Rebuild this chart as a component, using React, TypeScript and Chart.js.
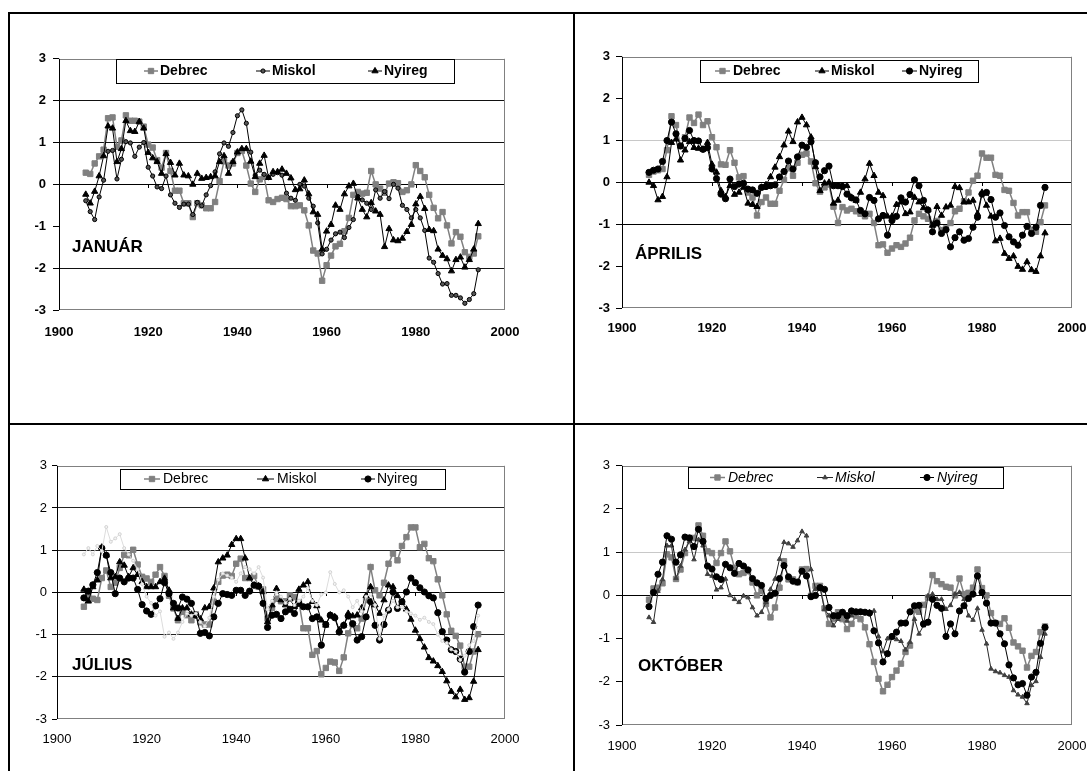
import React, { useEffect, useRef } from 'react';
import { Chart, registerables } from 'chart.js';
import { drawPoint } from 'chart.js/helpers';

Chart.register(...registerables);

const FONT = '"Liberation Sans", Arial, Helvetica, sans-serif';
Chart.defaults.font.family = FONT;
Chart.defaults.color = '#000';

const YEARS = [
  1906, 1907, 1908, 1909, 1910, 1911, 1912, 1913, 1914, 1915,
  1916, 1917, 1918, 1919, 1920, 1921, 1922, 1923, 1924, 1925,
  1926, 1927, 1928, 1929, 1930, 1931, 1932, 1933, 1934, 1935,
  1936, 1937, 1938, 1939, 1940, 1941, 1942, 1943, 1944, 1945,
  1946, 1947, 1948, 1949, 1950, 1951, 1952, 1953, 1954, 1955,
  1956, 1957, 1958, 1959, 1960, 1961, 1962, 1963, 1964, 1965,
  1966, 1967, 1968, 1969, 1970, 1971, 1972, 1973, 1974, 1975,
  1976, 1977, 1978, 1979, 1980, 1981, 1982, 1983, 1984, 1985,
  1986, 1987, 1988, 1989, 1990, 1991, 1992, 1993, 1994,
];
const X_TICKS = [1900, 1920, 1940, 1960, 1980, 2000];
const Y_TICKS = [-3, -2, -1, 0, 1, 2, 3];
const SERIES_NAMES = ['Debrec', 'Miskol', 'Nyireg'];

// ---------- JANUÁR ----------
const JAN_DEBREC = [
  0.28, 0.25, 0.50, 0.67, 0.83, 1.58, 1.60, 0.90, 1.05, 1.65,
  1.52, 1.52, 1.50, 1.38, 0.95, 0.88, 0.58, 0.40, 0.75, 0.32,
  -0.15, -0.15, -0.45, -0.45, -0.78, -0.45, -0.50, -0.57, -0.57, -0.42,
  0.08, 0.55, 0.45, 0.50, 0.75, 0.80, 0.45, 0.02, -0.18, 0.12,
  0.18, -0.38, -0.42, -0.35, -0.32, -0.35, -0.52, -0.52, -0.50, -0.62,
  -0.98, -1.58, -1.65, -2.30, -1.93, -1.70, -1.48, -1.42, -1.12, -0.80,
  -0.25, -0.18, -0.22, -0.20, 0.32, 0.00, -0.10, -0.20, 0.02, 0.05,
  0.03, -0.18, -0.14, 0.00, 0.46, 0.32, 0.17, -0.25, -0.56, -0.81,
  -0.66, -0.98, -1.41, -1.14, -1.25, -1.62, -1.73, -1.65, -1.24,
];
const JAN_MISKOL = [
  -0.39, -0.65, -0.84, -0.30, 0.10, 0.79, 0.81, 0.13, 0.60, 1.02,
  0.99, 0.67, 0.89, 1.00, 0.41, 0.20, -0.06, -0.10, 0.20, -0.25,
  -0.45, -0.55, -0.47, -0.47, -0.72, -0.43, -0.51, -0.25, -0.03, 0.30,
  0.73, 0.99, 0.91, 1.24, 1.64, 1.78, 1.46, 0.77, 0.22, 0.34,
  0.24, 0.16, 0.24, 0.28, 0.22, -0.21, -0.33, -0.38, 0.00, -0.04,
  -0.33, -0.52, -0.92, -1.66, -1.55, -1.33, -1.18, -1.14, -1.27, -1.03,
  -0.84, -0.29, -0.37, -0.45, -0.60, -0.13, -0.33, -0.17, -0.34, 0.00,
  -0.09, -0.50, -0.60, -0.80, -0.60, -0.80, -1.10, -1.76, -1.86, -2.13,
  -2.38, -2.37, -2.65, -2.65, -2.71, -2.84, -2.75, -2.61, -2.04,
];
const JAN_NYIREG = [
  -0.24, -0.45, -0.17, 0.20, 0.68, 1.39, 1.34, 0.54, 0.85, 1.52,
  1.28, 1.26, 1.50, 1.34, 0.76, 0.63, 0.54, 0.26, 0.73, 0.52,
  0.22, 0.50, 0.22, 0.20, 0.00, 0.26, 0.14, 0.16, 0.18, 0.20,
  0.54, 0.68, 0.26, 0.54, 0.77, 0.85, 0.85, 0.55, 0.18, 0.50,
  0.69, 0.16, 0.30, 0.30, 0.36, 0.26, 0.15, -0.13, -0.11, 0.10,
  -0.23, -0.66, -0.72, -1.55, -1.12, -0.96, -0.50, -0.60, -0.23, -0.04,
  0.02, -0.33, -0.60, -0.78, -0.44, -0.64, -0.72, -1.49, -1.06, -1.33,
  -1.35, -1.29, -1.13, -0.96, -0.47, -0.29, -0.58, -1.08, -1.11, -1.55,
  -1.70, -1.78, -2.07, -1.80, -1.74, -1.98, -1.80, -1.55, -0.94,
];

// ---------- ÁPRILIS ----------
const APR_DEBREC = [
  0.18, 0.26, 0.29, 0.32, 0.77, 1.58, 1.37, 0.87, 1.08, 1.55,
  1.42, 1.62, 1.37, 1.46, 1.08, 0.84, 0.43, 0.42, 0.77, 0.47,
  0.12, 0.15, -0.24, -0.36, -0.79, -0.47, -0.36, -0.51, -0.51, -0.20,
  0.06, 0.34, 0.16, 0.47, 0.66, 0.69, 0.50, -0.02, -0.22, -0.12,
  -0.05, -0.58, -0.97, -0.59, -0.67, -0.63, -0.69, -0.75, -0.81, -0.75,
  -0.97, -1.50, -1.48, -1.68, -1.58, -1.50, -1.54, -1.46, -1.32, -0.91,
  -0.75, -0.81, -0.87, -0.99, -0.92, -1.14, -1.10, -0.97, -0.69, -0.63,
  -0.45, -0.24, 0.04, 0.16, 0.69, 0.59, 0.59, 0.18, 0.16, -0.18,
  -0.20, -0.49, -0.79, -0.71, -0.71, -1.14, -1.18, -0.95, -0.55,
];
const APR_MISKOL = [
  0.00, -0.08, -0.42, -0.34, 0.13, 0.95, 1.03, 0.53, 0.77, 0.97,
  0.83, 0.81, 0.79, 0.95, 0.43, 0.24, -0.20, -0.34, -0.08, -0.29,
  -0.24, -0.12, -0.50, -0.53, -0.58, -0.12, -0.06, 0.13, 0.36, 0.61,
  0.89, 1.22, 0.97, 1.44, 1.55, 1.37, 1.08, 0.37, -0.20, -0.02,
  0.00, -0.50, -0.43, -0.08, -0.08, -0.36, -0.43, -0.24, 0.08, 0.45,
  0.16, -0.24, -0.32, -0.81, -0.81, -0.53, -0.47, -0.75, -0.71, -0.36,
  -0.47, -0.61, -0.66, -1.03, -0.58, -0.79, -0.59, -0.55, -0.10, -0.13,
  -0.47, -0.47, -0.43, -0.75, -0.24, -0.55, -0.81, -1.40, -1.34, -1.70,
  -1.82, -1.76, -2.01, -2.08, -1.90, -2.09, -2.13, -1.76, -1.21,
];
const APR_NYIREG = [
  0.24, 0.29, 0.32, 0.50, 1.00, 1.44, 1.16, 0.87, 1.05, 1.24,
  1.00, 0.99, 0.79, 0.83, 0.32, 0.09, -0.28, -0.39, 0.08, -0.10,
  -0.04, -0.02, -0.16, -0.18, -0.26, -0.12, -0.10, -0.08, -0.06, 0.13,
  0.26, 0.51, 0.32, 0.61, 0.89, 0.84, 0.97, 0.47, 0.13, 0.28,
  0.39, -0.08, -0.08, -0.10, -0.28, -0.37, -0.42, -0.67, -0.75, -0.36,
  -0.43, -0.87, -0.79, -1.26, -0.91, -0.81, -0.37, -0.47, -0.29, 0.06,
  -0.08, -0.43, -0.66, -1.18, -0.97, -1.22, -1.13, -1.54, -1.32, -1.18,
  -1.38, -1.34, -1.07, -0.83, -0.28, -0.24, -0.41, -0.83, -0.73, -1.03,
  -1.30, -1.42, -1.50, -1.26, -1.05, -1.22, -1.07, -0.55, -0.12,
];

// ---------- JÚLIUS ----------
const JUL_DEBREC = [
  -0.34, -0.08, -0.15, -0.18, 0.34, 0.52, 0.13, 0.23, 0.58, 0.89,
  0.88, 1.01, 0.66, 0.37, 0.33, 0.25, 0.42, 0.60, 0.39, -0.08,
  -0.38, -0.66, -0.46, -0.54, -0.66, -0.52, -0.71, -0.76, -0.76, -0.22,
  0.25, 0.40, 0.42, 0.39, 0.68, 0.80, 0.34, 0.34, 0.39, 0.13,
  0.07, -0.62, -0.37, -0.15, -0.21, -0.21, -0.07, -0.11, -0.23, -0.85,
  -0.85, -1.48, -1.39, -1.94, -1.79, -1.64, -1.66, -1.86, -1.54, -0.97,
  -0.76, -0.85, -0.62, -0.18, 0.60, 0.05, -0.07, 0.23, 0.68, 0.92,
  0.76, 1.10, 1.31, 1.54, 1.54, 1.07, 1.15, 0.81, 0.74, 0.31,
  -0.07, -0.52, -0.91, -1.03, -1.26, -1.76, -1.76, -1.40, -0.99,
];
const JUL_MISKOL = [
  0.07, -0.21, 0.13, 0.29, 1.07, 0.88, 0.34, 0.37, 0.72, 0.64,
  0.37, 0.58, 0.42, 0.25, 0.13, 0.13, 0.13, 0.25, 0.33, 0.05,
  -0.37, -0.62, -0.37, -0.37, -0.52, -0.54, -0.63, -0.37, -0.34, 0.10,
  0.72, 0.81, 0.88, 1.13, 1.27, 1.27, 0.81, 0.34, 0.17, 0.15,
  0.01, -0.70, -0.30, 0.09, -0.18, -0.30, -0.16, -0.34, 0.07, 0.17,
  0.25, -0.22, -0.32, -0.66, -0.78, -0.54, -0.58, -0.89, -0.78, -0.50,
  -0.56, -0.54, -0.37, -0.08, 0.13, -0.30, -0.50, -0.18, 0.17, 0.13,
  -0.08, -0.24, -0.40, -0.64, -0.90, -1.10, -1.30, -1.55, -1.63, -1.74,
  -1.88, -2.10, -2.35, -2.48, -2.30, -2.54, -2.50, -2.11, -1.36,
];
const JUL_NYIREG = [
  -0.13, 0.03, 0.18, 0.47, 1.05, 0.88, 0.47, -0.03, 0.34, 0.25,
  0.34, 0.34, 0.07, -0.29, -0.44, -0.52, -0.32, -0.15, 0.23, -0.03,
  -0.26, -0.37, -0.11, -0.16, -0.26, -0.54, -0.97, -0.95, -1.03, -0.58,
  -0.26, -0.03, -0.05, -0.07, 0.05, 0.05, -0.07, 0.03, 0.17, 0.15,
  -0.26, -0.83, -0.54, -0.52, -0.62, -0.46, -0.40, -0.50, -0.26, -0.34,
  -0.34, -0.62, -0.58, -1.25, -0.76, -0.54, -0.60, -0.94, -0.78, -0.56,
  -0.74, -1.13, -1.05, -0.58, -0.22, -0.78, -1.13, -0.76, -0.42, 0.01,
  -0.38, -0.22, 0.01, 0.34, 0.23, 0.11, 0.01, -0.08, -0.13, -0.48,
  -0.93, -1.13, -1.36, -1.40, -1.58, -1.89, -1.40, -0.81, -0.30,
];
// faint light-grey trace visible behind the July series
const JUL_FAINT = [
  0.90, 1.05, 0.90, 1.10, 0.98, 1.55, 1.20, 1.28, 1.38, 1.05,
  0.90, 0.75, 0.55, 0.20, -0.10, -0.25, -0.55, -0.45, -1.05, -0.95,
  -1.10, -0.95, -0.70, -0.50, -0.55, -0.50, -0.70, -0.80, -0.60, -0.10,
  0.30, 0.45, 0.40, 0.35, 0.25, 0.45, 0.60, 0.55, 0.45, 0.60,
  0.35, -0.40, -0.20, 0.00, -0.10, -0.25, -0.15, -0.30, -0.20, -0.10,
  0.10, -0.20, -0.30, -0.05, 0.00, 0.48, 0.20, 0.00, 0.05, -0.10,
  -0.35, -0.20, -0.45, -0.10, -0.05, -0.30, -1.10, -0.55, -0.40, -0.20,
  -0.35, -0.35, -0.45, -0.50, -0.55, -0.65, -0.60, -0.70, -0.75, -1.00,
  -1.15, -1.20, -1.35, -1.40, -1.60, -1.50, -1.25, -1.15, -0.55,
];

// ---------- OKTÓBER ----------
const OKT_DEBREC = [
  -0.10, 0.16, 0.18, 0.28, 0.95, 0.88, 0.38, 0.60, 0.98, 1.33,
  1.33, 1.62, 1.38, 1.02, 0.98, 0.75, 0.98, 1.25, 1.02, 0.64,
  0.49, 0.52, 0.56, 0.30, 0.00, 0.10, -0.20, -0.51, -0.28, 0.18,
  0.79, 0.37, 0.37, 0.30, 0.60, 0.61, -0.01, 0.22, 0.22, -0.30,
  -0.66, -0.55, -0.39, -0.55, -0.78, -0.66, -0.47, -0.55, -0.74, -1.13,
  -1.54, -1.93, -2.22, -2.07, -1.89, -1.74, -1.58, -1.31, -1.16, -0.34,
  -0.38, -0.22, -0.05, 0.47, 0.33, 0.26, 0.20, 0.18, 0.00, 0.39,
  0.03, 0.06, 0.18, 0.60, 0.17, 0.00, -0.41, -0.64, -0.66, -0.53,
  -0.75, -1.09, -1.18, -1.28, -1.67, -1.40, -1.31, -0.85, -0.72,
];
const OKT_MISKOL = [
  -0.51, -0.62, 0.10, 0.37, 1.15, 1.15, 0.40, 0.68, 1.06, 1.25,
  0.83, 1.29, 1.15, 0.49, 0.45, 0.13, 0.18, 0.38, 0.00, -0.09,
  -0.16, -0.01, -0.05, -0.28, -0.47, -0.39, -0.16, 0.14, 0.38, 0.84,
  1.23, 1.20, 1.12, 1.27, 1.48, 1.38, 0.60, 0.14, 0.18, -0.32,
  -0.47, -0.70, -0.55, -0.39, -0.59, -0.47, -0.38, -0.38, -0.39, -0.38,
  -0.36, -0.95, -1.30, -1.00, -0.98, -1.02, -1.06, -1.26, -1.08, -0.55,
  -0.89, -0.70, -0.01, 0.03, -0.09, -0.09, -0.32, -0.23, 0.03, 0.07,
  -0.09, -0.47, -0.57, -0.30, -0.80, -1.12, -1.70, -1.76, -1.79, -1.85,
  -1.89, -2.20, -2.30, -2.35, -2.50, -2.08, -1.99, -1.43, -0.89,
];
const OKT_NYIREG = [
  -0.26, 0.07, 0.49, 0.77, 1.38, 1.30, 0.77, 0.94, 1.35, 1.33,
  1.13, 1.53, 1.25, 0.68, 0.61, 0.43, 0.37, 0.72, 0.64, 0.51,
  0.74, 0.68, 0.59, 0.39, 0.29, 0.23, -0.07, 0.00, 0.05, 0.39,
  0.69, 0.43, 0.33, 0.31, 0.56, 0.45, -0.03, 0.00, 0.18, 0.14,
  -0.28, -0.47, -0.47, -0.39, -0.47, -0.36, -0.38, -0.38, -0.39, -0.41,
  -0.82, -1.10, -1.54, -1.35, -0.95, -0.85, -0.64, -0.64, -0.38, -0.24,
  -0.23, -0.66, -0.62, -0.09, -0.23, -0.30, -0.95, -0.66, -0.89, -0.36,
  -0.24, -0.07, 0.03, 0.45, 0.07, -0.18, -0.64, -0.64, -0.89, -1.12,
  -1.61, -1.91, -2.07, -2.04, -2.31, -1.89, -1.78, -1.11, -0.74,
];

type Style = {
  color: string; width: number; point: string; radius: number; bg: string; bd: string;
};
type SeriesCfg = Style & { label: string; data: number[]; order: number };
type LegendItem = { idx: number; sx: number; ex: number; tx: number };
type PanelCfg = {
  key: string;
  area: [number, number, number, number];
  title: string;
  titleX: number;
  titleY: number;
  tickWeight: string;
  legendWeight: string;
  legendStyle: string;
  gridColors: Record<string, string>;
  legendBox: [number, number, number, number];
  legendItems: LegendItem[];
  series: SeriesCfg[];
  xPad: number;
  yPad: number;
  tickLen: number;
};

const GREY_SQ: Style = { color: '#808080', width: 1.5, point: 'rect', radius: 3.8, bg: '#808080', bd: '#808080' };
const BLK_TRI: Style = { color: '#000', width: 1, point: 'triangle', radius: 3.6, bg: '#000', bd: '#000' };
const BLK_CIR: Style = { color: '#000', width: 1, point: 'circle', radius: 3.1, bg: '#000', bd: '#000' };
const SMALL_DOT: Style = { color: '#000', width: 1, point: 'circle', radius: 2.1, bg: '#555', bd: '#000' };
const SMALL_TRI: Style = { color: '#262626', width: 1, point: 'triangle', radius: 2.6, bg: '#404040', bd: '#404040' };
const FAINT: Style = { color: '#dcdcdc', width: 1, point: 'circle', radius: 1.5, bg: '#f4f4f4', bd: '#d2d2d2' };

const PANELS: PanelCfg[] = [
  {
    key: 'jan',
    area: [59, 56, 505, 310],
    title: 'JANUÁR', titleX: 72, titleY: 246,
    tickWeight: 'bold', legendWeight: 'bold', legendStyle: 'normal',
    gridColors: { '2': '#111', '1': '#111', '0': '#000', '-2': '#111' },
    legendBox: [116, 59, 454, 83],
    legendItems: [
      { idx: 0, sx: 144, ex: 158, tx: 160 },
      { idx: 1, sx: 256, ex: 270, tx: 272 },
      { idx: 2, sx: 368, ex: 382, tx: 384 },
    ],
    series: [
      { ...GREY_SQ, label: SERIES_NAMES[0], data: JAN_DEBREC, order: 3 },
      { ...SMALL_DOT, label: SERIES_NAMES[1], data: JAN_MISKOL, order: 2 },
      { ...BLK_TRI, label: SERIES_NAMES[2], data: JAN_NYIREG, order: 1 },
    ],
    xPad: 15, yPad: 7, tickLen: 6,
  },
  {
    key: 'apr',
    area: [622, 55, 1072, 308],
    title: 'ÁPRILIS', titleX: 635, titleY: 253,
    tickWeight: 'bold', legendWeight: 'bold', legendStyle: 'normal',
    gridColors: { '1': '#c8c8c8', '0': '#000', '-1': '#000' },
    legendBox: [700, 60, 978, 82],
    legendItems: [
      { idx: 0, sx: 715, ex: 730, tx: 733 },
      { idx: 1, sx: 815, ex: 829, tx: 831 },
      { idx: 2, sx: 902, ex: 917, tx: 919 },
    ],
    series: [
      { ...GREY_SQ, label: SERIES_NAMES[0], data: APR_DEBREC, order: 3 },
      { ...BLK_TRI, label: SERIES_NAMES[1], data: APR_MISKOL, order: 2 },
      { ...BLK_CIR, label: SERIES_NAMES[2], data: APR_NYIREG, order: 1 },
    ],
    xPad: 13, yPad: 6, tickLen: 6,
  },
  {
    key: 'jul',
    area: [57, 465, 505, 719],
    title: 'JÚLIUS', titleX: 72, titleY: 664,
    tickWeight: 'normal', legendWeight: 'normal', legendStyle: 'normal',
    gridColors: { '2': '#222', '1': '#222', '0': '#000', '-1': '#222', '-2': '#222' },
    legendBox: [120, 469, 445, 489],
    legendItems: [
      { idx: 0, sx: 144, ex: 160, tx: 163 },
      { idx: 1, sx: 257, ex: 274, tx: 277 },
      { idx: 2, sx: 361, ex: 375, tx: 377 },
    ],
    series: [
      { ...GREY_SQ, label: SERIES_NAMES[0], data: JUL_DEBREC, order: 3 },
      { ...BLK_TRI, label: SERIES_NAMES[1], data: JUL_MISKOL, order: 2 },
      { ...BLK_CIR, label: SERIES_NAMES[2], data: JUL_NYIREG, order: 1 },
      { ...FAINT, label: '', data: JUL_FAINT, order: 0 },
    ],
    xPad: 13, yPad: 5, tickLen: 5,
  },
  {
    key: 'okt',
    area: [622, 464, 1072, 725],
    title: 'OKTÓBER', titleX: 638, titleY: 665,
    tickWeight: 'normal', legendWeight: 'normal', legendStyle: 'italic',
    gridColors: { '1': '#c8c8c8', '0': '#000' },
    legendBox: [688, 467, 1003, 488],
    legendItems: [
      { idx: 0, sx: 710, ex: 725, tx: 728 },
      { idx: 1, sx: 817, ex: 833, tx: 835 },
      { idx: 2, sx: 920, ex: 934, tx: 937 },
    ],
    series: [
      { ...GREY_SQ, label: SERIES_NAMES[0], data: OKT_DEBREC, order: 3 },
      { ...SMALL_TRI, label: SERIES_NAMES[1], data: OKT_MISKOL, order: 2 },
      { ...BLK_CIR, label: SERIES_NAMES[2], data: OKT_NYIREG, order: 1 },
    ],
    xPad: 14, yPad: 6, tickLen: 6,
  },
];

const PAD_L = 50;
const PAD_T = 12;
const PAD_R = 44;
const AX_H = 30;

function makeDecor(cfg: PanelCfg, ox: number, oy: number) {
  return {
    id: 'decor_' + cfg.key,
    beforeDatasetsDraw(chart: any) {
      const { ctx, chartArea: a, scales } = chart;
      ctx.save();
      ctx.lineWidth = 1;
      ctx.strokeStyle = '#808080';
      ctx.beginPath();
      ctx.moveTo(a.left, Math.round(a.top) + 0.5);
      ctx.lineTo(a.right, Math.round(a.top) + 0.5);
      ctx.moveTo(Math.round(a.right) - 0.5, a.top);
      ctx.lineTo(Math.round(a.right) - 0.5, a.bottom);
      ctx.moveTo(a.left, Math.round(a.bottom) - 0.5);
      ctx.lineTo(a.right, Math.round(a.bottom) - 0.5);
      ctx.stroke();
      ctx.strokeStyle = '#000';
      ctx.beginPath();
      ctx.moveTo(Math.round(a.left) + 0.5, a.top);
      ctx.lineTo(Math.round(a.left) + 0.5, a.bottom);
      const y0 = Math.round(scales.y.getPixelForValue(0));
      X_TICKS.slice(1, -1).forEach((v) => {
        const x = Math.round(scales.x.getPixelForValue(v)) + 0.5;
        ctx.moveTo(x, y0);
        ctx.lineTo(x, y0 + 4);
      });
      ctx.stroke();
      ctx.restore();
    },
    afterDraw(chart: any) {
      const { ctx } = chart;
      ctx.save();
      const [bx1, by1, bx2, by2] = cfg.legendBox;
      ctx.fillStyle = '#fff';
      ctx.fillRect(bx1 - ox, by1 - oy, bx2 - bx1, by2 - by1);
      ctx.strokeStyle = '#000';
      ctx.lineWidth = 1;
      ctx.strokeRect(bx1 - ox + 0.5, by1 - oy + 0.5, bx2 - bx1, by2 - by1);
      const cy = (by1 + by2) / 2 - oy;
      cfg.legendItems.forEach((it) => {
        const s = cfg.series[it.idx];
        ctx.strokeStyle = s.color;
        ctx.lineWidth = s.width;
        ctx.beginPath();
        ctx.moveTo(it.sx - ox, cy);
        ctx.lineTo(it.ex - ox, cy);
        ctx.stroke();
        ctx.fillStyle = s.bg;
        ctx.strokeStyle = s.bd;
        ctx.lineWidth = 1;
        drawPoint(ctx, { pointStyle: s.point, radius: s.radius, rotation: 0, borderWidth: 1 } as any,
          (it.sx + it.ex) / 2 - ox, cy);
        ctx.fillStyle = '#000';
        ctx.font = `${cfg.legendStyle} ${cfg.legendWeight} 14px ${FONT}`;
        ctx.textBaseline = 'middle';
        ctx.textAlign = 'left';
        ctx.fillText(s.label, it.tx - ox, cy + 0.5);
      });
      ctx.font = `bold 17px ${FONT}`;
      ctx.fillStyle = '#000';
      ctx.textBaseline = 'middle';
      ctx.textAlign = 'left';
      ctx.fillText(cfg.title, cfg.titleX - ox, cfg.titleY - oy + 1);
      ctx.restore();
    },
  };
}

function Panel({ cfg }: { cfg: PanelCfg }) {
  const ref = useRef<HTMLCanvasElement>(null);
  const [L, T, R, B] = cfg.area;
  const ox = L - PAD_L;
  const oy = T - PAD_T;
  const w = R - L + PAD_L + PAD_R;
  const h = B - T + PAD_T + AX_H;

  useEffect(() => {
    const tickFont = { family: FONT, size: 13, weight: cfg.tickWeight as any };
    const chart = new Chart(ref.current as HTMLCanvasElement, {
      type: 'line',
      data: {
        datasets: cfg.series.map((s) => ({
          label: s.label,
          data: YEARS.map((x, i) => ({ x, y: s.data[i] })),
          borderColor: s.color,
          borderWidth: s.width,
          pointStyle: s.point as any,
          pointRadius: s.radius,
          pointBackgroundColor: s.bg,
          pointBorderColor: s.bd,
          pointBorderWidth: 1,
          tension: 0,
          fill: false,
          order: s.order,
        })),
      },
      options: {
        responsive: false,
        animation: false,
        events: [],
        layout: { padding: { left: 0, top: PAD_T, right: PAD_R, bottom: 0 } },
        plugins: { legend: { display: false }, tooltip: { enabled: false } },
        scales: {
          x: {
            type: 'linear',
            min: X_TICKS[0],
            max: X_TICKS[X_TICKS.length - 1],
            afterBuildTicks: (s: any) => { s.ticks = X_TICKS.map((v) => ({ value: v })); },
            afterFit: (s: any) => { s.height = AX_H; },
            grid: { display: false, drawTicks: false },
            border: { display: false },
            ticks: {
              padding: cfg.xPad, color: '#000', font: tickFont,
              maxRotation: 0, autoSkip: false,
              callback: (v: any) => String(v),
            },
          },
          y: {
            type: 'linear',
            min: Y_TICKS[0],
            max: Y_TICKS[Y_TICKS.length - 1],
            afterBuildTicks: (s: any) => { s.ticks = Y_TICKS.map((v) => ({ value: v })); },
            afterFit: (s: any) => { s.width = PAD_L; },
            grid: {
              color: (c: any) => cfg.gridColors[String(c.tick && c.tick.value)] || 'rgba(0,0,0,0)',
              lineWidth: 1,
              tickColor: '#000',
              tickLength: cfg.tickLen,
              drawTicks: true,
            },
            border: { display: false },
            ticks: {
              padding: cfg.yPad, color: '#000', font: tickFont,
              callback: (v: any) => String(v),
            },
          },
        },
      },
      plugins: [makeDecor(cfg, ox, oy)],
    });
    return () => chart.destroy();
  }, [cfg]);

  return (
    <canvas
      ref={ref}
      width={w}
      height={h}
      style={{ position: 'absolute', left: ox, top: oy, width: w, height: h }}
    />
  );
}

export default function App() {
  const line = (l: number, t: number, w: number, h: number) => (
    <div style={{ position: 'absolute', left: l, top: t, width: w, height: h, background: '#000', zIndex: 2 }} />
  );
  return (
    <div style={{ position: 'fixed', left: 0, top: 0, width: 1087, height: 771, overflow: 'hidden', background: '#fff' }}>
      {PANELS.map((p) => <Panel key={p.key} cfg={p} />)}
      {line(8, 12, 1079, 2)}
      {line(8, 12, 2, 759)}
      {line(573, 12, 2, 759)}
      {line(8, 423, 1079, 2)}
    </div>
  );
}
